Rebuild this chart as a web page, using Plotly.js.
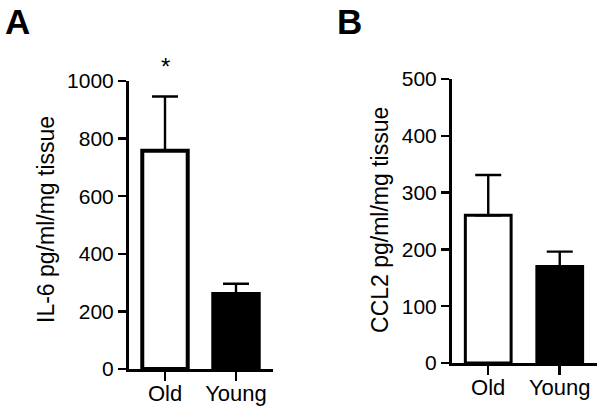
<!DOCTYPE html>
<html>
<head>
<meta charset="utf-8">
<script src="https://cdn.plot.ly/plotly-3.0.1.min.js"></script>
<style>html,body{margin:0;padding:0;background:#fff;}#chart{width:600px;height:407px;}</style>
</head>
<body>
<div id="chart"></div>
<script>
// Data
const categories = ["Old", "Young"];
const il6Values = [758, 260];
const il6ErrPlus = [188, 36];
const ccl2Values = [260, 170];
const ccl2ErrPlus = [71, 26];
const il6Ticks = [0, 200, 400, 600, 800, 1000];
const ccl2Ticks = [0, 100, 200, 300, 400, 500];
const barFills = ["#ffffff", "#000000"];

const FONT = "Liberation Sans, Arial, sans-serif";

function barTrace(vals, errs, xa, ya, lw) {
  return {
    type: "bar",
    x: categories,
    y: vals,
    xaxis: xa,
    yaxis: ya,
    width: 0.64,
    marker: {color: barFills, line: {color: "#000", width: lw}},
    error_y: {type: "data", array: errs, arrayminus: errs.map(() => 0), symmetric: false,
              color: "#000", thickness: 2.4, width: 13},
    showlegend: false,
    hoverinfo: "skip"
  };
}

const traces = [
  barTrace(il6Values, il6ErrPlus, "x", "y", 4),
  barTrace(ccl2Values, ccl2ErrPlus, "x2", "y2", 3)
];

const xCommon = {
  type: "category",
  range: [-0.507, 1.521],
  showline: true, linecolor: "#000", linewidth: 3,
  ticks: "outside", ticklen: 9, tickwidth: 2.5, tickcolor: "#000",
  ticklabelstandoff: -6,
  showgrid: false, zeroline: false,
  tickfont: {family: FONT, size: 22, color: "#000"},
  fixedrange: true
};
const yCommon = {
  showline: true, linecolor: "#000", linewidth: 3,
  ticks: "outside", ticklen: 8, tickwidth: 2.5, tickcolor: "#000",
  showgrid: false, zeroline: false,
  tickfont: {family: FONT, size: 21, color: "#000"},
  tickmode: "array",
  fixedrange: true
};

const layout = {
  width: 600, height: 407,
  margin: {l: 0, r: 0, t: 0, b: 0},
  paper_bgcolor: "#fff", plot_bgcolor: "#fff",
  xaxis: Object.assign({}, xCommon, {domain: [0.215, 0.455], anchor: "y"}),
  yaxis: Object.assign({}, yCommon, {domain: [0.0934, 0.801], range: [0, 1000], tickvals: il6Ticks, anchor: "x"}),
  xaxis2: Object.assign({}, xCommon, {domain: [0.7533, 0.995], anchor: "y2"}),
  yaxis2: Object.assign({}, yCommon, {domain: [0.1081, 0.806], range: [0, 500], tickvals: ccl2Ticks, anchor: "x2"}),
  annotations: [
    {text: "<b>A</b>", xref: "paper", yref: "paper", x: 0.005, y: 1.0, xanchor: "left", yanchor: "top",
     showarrow: false, font: {family: FONT, size: 35, color: "#000"}},
    {text: "<b>B</b>", xref: "paper", yref: "paper", x: 0.558, y: 1.0, xanchor: "left", yanchor: "top",
     showarrow: false, font: {family: FONT, size: 35, color: "#000"}},
    {text: "*", xref: "x", yref: "paper", x: 0, y: (407 - 66) / 407, xanchor: "center", yanchor: "middle",
     showarrow: false, font: {family: FONT, size: 24, color: "#000"}},
    {text: "IL-6 pg/ml/mg tissue", xref: "paper", yref: "paper", x: 46/600, y: 0.4595,
     xanchor: "center", yanchor: "middle", textangle: -90, showarrow: false,
     font: {family: FONT, size: 23, color: "#000"}},
    {text: "CCL2 pg/ml/mg tissue", xref: "paper", yref: "paper", x: 380/600, y: 0.4595,
     xanchor: "center", yanchor: "middle", textangle: -90, showarrow: false,
     font: {family: FONT, size: 23, color: "#000"}}
  ]
};

Plotly.newPlot("chart", traces, layout, {staticPlot: true, displayModeBar: false});
</script>
</body>
</html>
